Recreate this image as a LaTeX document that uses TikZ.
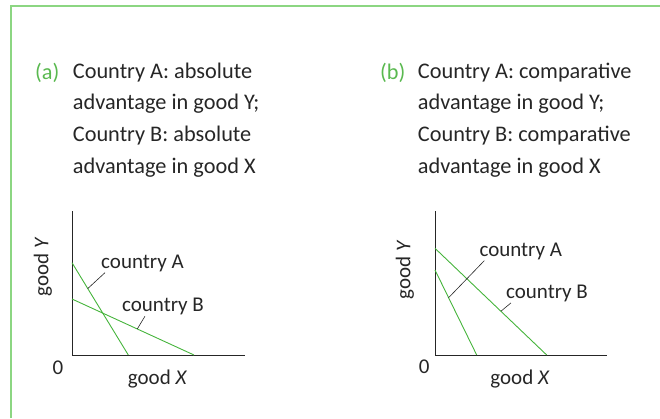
\documentclass[tikz,border=0pt]{standalone}
\usepackage{fontspec}
\setmainfont{Carlito}
\usetikzlibrary{positioning}
\definecolor{framegreen}{RGB}{140,214,130}
\definecolor{taggreen}{RGB}{90,185,80}
\definecolor{ppfgreen}{RGB}{70,180,60}

\begin{document}
\begin{tikzpicture}[
    x=1pt, y=-1pt,
    heading/.style={anchor=north west, inner sep=0pt, align=left, font=\fontsize{22.3}{31.7}\selectfont, text=black!85},
    tag/.style={anchor=north west, inner sep=0pt, font=\fontsize{22.3}{31.7}\selectfont, text=taggreen},
    axis/.style={draw=black!85, line width=0.8pt},
    ppf/.style={draw=ppfgreen, line width=0.9pt},
    leader/.style={draw=black!85, line width=0.6pt},
    lbl/.style={font=\fontsize{21}{23}\selectfont, text=black!85, inner sep=1pt},
]
    \useasboundingbox (0,0) rectangle (660,418);

    % Frame
    \draw[framegreen, line width=2pt] (10.5,418) -- (10.5,5.5) -- (660,5.5);

    % Headings
    \node[tag] (tagA) at (35,62.5) {(a)};
    \node[heading] (headA) at (72.7,62.5) {Country A: absolute\\advantage in good Y;\\Country B: absolute\\advantage in good X};
    \node[tag] (tagB) at (380,62.5) {(b)};
    \node[heading] (headB) at (417.7,62.5) {Country A: comparative\\advantage in good Y;\\Country B: comparative\\advantage in good X};

    % Panel (a)
    \coordinate (aTop) at (72,211);
    \coordinate (aO) at (72,355);
    \coordinate (aEnd) at (245,355);
    \draw[axis] (aTop) -- (aO) -- (aEnd);
    \draw[ppf] (72,262.7) -- (128.3,355) coordinate[pos=0.28] (aA);
    \draw[ppf] (72,299) -- (194,355) coordinate[pos=0.535] (aB);
    \node[lbl] (zeroA) at (58,367.7) {0};
    \node[lbl] (goodXa) at (157.5,379) {good \textit{X}};
    \node[lbl, rotate=90] (goodYa) at (43,266.7) {good \textit{Y}};
    \node[lbl] (lblaA) at (142.5,263) {country A};
    \node[lbl] (lblaB) at (163,306.7) {country B};
    \draw[leader] (aA) -- ([xshift=5pt]lblaA.south west);
    \draw[leader] (aB) -- ([xshift=24pt]lblaB.south west);

    % Panel (b)
    \coordinate (bTop) at (435,211);
    \coordinate (bO) at (435,355);
    \coordinate (bEnd) at (607,355);
    \draw[axis] (bTop) -- (bO) -- (bEnd);
    \draw[ppf] (435,270) -- (476.7,355) coordinate[pos=0.326] (bA);
    \draw[ppf] (435,248.3) -- (546.7,355) coordinate[pos=0.59] (bB);
    \node[lbl] (zeroB) at (424.3,366.7) {0};
    \node[lbl] (goodXb) at (520,379) {good \textit{X}};
    \node[lbl, rotate=90] (goodYb) at (405,270) {good \textit{Y}};
    \node[lbl] (lblbA) at (520.8,251) {country A};
    \node[lbl] (lblbB) at (547,293.3) {country B};
    \draw[leader] (bA) -- ([xshift=6pt]lblbA.south west);
    \draw[leader] (bB) -- ([xshift=6pt]lblbB.south west);
\end{tikzpicture}
\end{document}
